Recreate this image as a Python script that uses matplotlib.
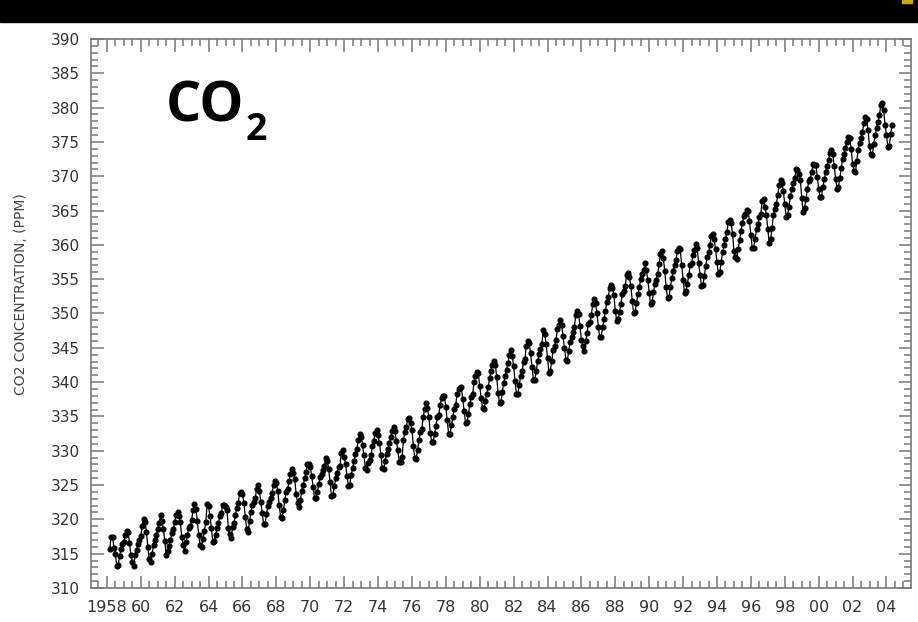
import numpy as np
import matplotlib.pyplot as plt
from matplotlib.ticker import MultipleLocator, FixedLocator

nan = np.nan

# Monthly Mauna Loa CO2 (ppm), Mar 1958 - Dec 2004, nan = month not measured
co2_1958_1969 = [
    315.71, 317.45, 317.50, nan, 315.86, 314.93, 313.20, nan, 313.33, 314.67,
    315.62, 316.38, 316.71, 317.72, 318.29, 318.15, 316.54, 314.80, 313.84, 313.26, 314.80, 315.58,
    316.43, 316.97, 317.58, 319.02, 320.03, 319.59, 318.18, 315.91, 314.16, 313.83, 315.00, 316.19,
    316.93, 317.70, 318.54, 319.48, 320.58, 319.77, 318.57, 316.79, 314.80, 315.38, 316.10, 317.01,
    317.94, 318.56, 319.68, 320.63, 321.01, 320.55, 319.58, 317.40, 316.26, 315.42, 316.69, 317.69,
    318.74, 319.08, 319.86, 321.39, 322.25, 321.47, 319.74, 317.77, 316.21, 315.99, 317.07, 318.35,
    319.57, nan, nan, nan, 322.25, 321.89, 320.44, 318.70, 316.70, 316.79, 317.79, 318.71,
    319.44, 320.44, 320.89, 322.13, 322.16, 321.87, 321.39, 318.81, 317.81, 317.30, 318.87, 319.42,
    320.62, 321.59, 322.39, 323.87, 324.01, 323.75, 322.39, 320.37, 318.64, 318.10, 319.79, 321.08,
    322.07, 322.50, 323.04, 324.42, 325.00, 324.09, 322.55, 320.92, 319.31, 319.31, 320.72, 321.96,
    322.57, 323.15, 323.89, 325.02, 325.57, 325.36, 324.14, 322.03, 320.41, 320.25, 321.31, 322.84,
    324.00, 324.42, 325.64, 326.66, 327.38, 326.70, 325.89, 323.67, 322.38, 321.78, 322.85, 324.11,
]
co2_1970_1979 = [
    325.03, 325.99, 326.87, 328.13, 328.07, 327.66, 326.35, 324.69, 323.10, 323.16, 323.98, 325.13,
    326.17, 326.68, 327.18, 327.78, 328.92, 328.57, 327.34, 325.46, 323.36, 323.57, 324.80, 326.01,
    326.77, 327.63, 327.75, 329.72, 330.07, 329.09, 328.05, 326.32, 324.93, 325.06, 326.50, 327.55,
    328.54, 329.56, 330.30, 331.50, 332.48, 332.07, 330.87, 329.31, 327.51, 327.18, 328.16, 328.64,
    329.35, 330.71, 331.48, 332.65, 333.09, 332.25, 331.18, 329.40, 327.44, 327.37, 328.46, 329.58,
    330.25, 331.09, 331.96, 332.94, 333.45, 332.82, 331.43, 330.05, 328.42, 328.33, 329.03, nan,
    331.59, 332.75, 333.52, 334.64, 334.77, 334.00, 333.06, 330.68, 328.95, 328.75, 330.15, 331.62,
    332.66, 333.13, 334.95, 336.13, 336.93, 336.17, 334.88, 332.56, 331.29, 331.27, 332.41, 333.60,
    334.95, 335.25, 336.66, 337.69, 338.03, 338.01, 336.41, 334.41, 332.37, 332.41, 333.75, 334.90,
    336.14, 336.69, 338.27, 338.95, 339.21, 339.26, 337.54, 335.75, 333.98, 334.19, 335.31, 336.81,
]
co2_1980_1989 = [
    337.90, 338.34, 340.01, 340.93, 341.48, 341.33, 339.40, 337.70, 336.19, 336.15, 337.27, 338.32,
    339.29, 340.55, 341.61, 342.53, 343.03, 342.54, 340.78, 338.44, 336.95, 337.08, 338.58, 339.88,
    340.96, 341.73, 342.81, 343.97, 344.63, 343.79, 342.32, 340.09, 338.28, 338.29, 339.60, 340.90,
    341.68, 342.90, 343.33, 345.25, 346.03, 345.63, 344.19, 342.27, 340.35, 340.38, 341.59, 343.05,
    344.10, 344.79, 345.52, nan, 347.63, 346.98, 345.53, 343.55, 341.40, 341.67, 343.10, 344.70,
    345.21, 346.16, 347.74, 348.34, 349.06, 348.38, 346.72, 345.02, 343.27, 343.13, 344.49, 345.88,
    346.56, 347.28, 348.01, 349.77, 350.38, 349.93, 348.16, 346.08, 345.22, 344.51, 345.93, 347.21,
    348.52, 348.73, 349.73, 351.31, 352.09, 351.53, 350.11, 348.08, 346.52, 346.59, 347.96, 349.16,
    350.39, 351.64, 352.41, 353.69, 354.21, 353.72, 352.69, 350.40, 348.92, 349.13, 350.20, 351.41,
    352.91, 353.27, 353.96, 355.64, 355.86, 355.37, 353.99, 351.81, 350.05, 350.25, 351.49, 352.85,
]
co2_1990_1999 = [
    353.80, 355.04, 355.73, 356.32, 357.32, 356.34, 354.84, 353.01, 351.31, 351.62, 353.07, 354.33,
    354.84, 355.73, 357.23, 358.66, 359.13, 358.13, 356.19, 353.85, 352.25, 352.35, 353.81, 355.12,
    356.25, 357.11, 357.86, 359.09, 359.59, 359.33, 357.01, 354.94, 352.96, 353.32, 354.32, 355.57,
    357.00, 357.31, 358.47, 359.27, 360.19, 359.52, 357.33, 355.64, 354.03, 354.12, 355.41, 356.91,
    358.24, 358.92, 359.99, 361.23, 361.65, 360.81, 359.38, 357.46, 355.73, 356.07, 357.53, 358.98,
    359.92, 360.86, 361.83, 363.30, 363.69, 363.19, 361.64, 359.12, 358.17, 357.99, 359.45, 360.68,
    362.07, 363.24, 364.17, 364.57, 365.13, 364.92, 363.55, 361.38, 359.54, 359.58, 360.89, 362.24,
    363.09, 364.03, 364.51, 366.35, 366.64, 365.59, 364.31, 362.25, 360.29, 360.82, 362.49, 364.38,
    365.26, 365.98, 367.24, 368.66, 369.42, 368.99, 367.82, 365.95, 364.02, 364.40, 365.52, 367.13,
    368.18, 369.07, 369.68, 370.99, 370.96, 370.30, 369.45, 366.90, 364.81, 365.37, 366.72, 368.10,
]
co2_2000_2004 = [
    369.29, 369.54, 370.60, 371.82, 371.58, 371.70, 369.86, 368.13, 367.00, 367.03, 368.37, 369.67,
    370.59, 371.51, 372.43, 373.37, 373.85, 373.21, 371.51, 369.61, 368.18, 368.45, 369.76, 371.24,
    372.53, 373.20, 374.12, 375.02, 375.76, 375.52, 374.01, 371.85, 370.75, 370.55, 372.25, 373.79,
    374.88, 375.64, 376.45, 377.73, 378.60, 378.28, 376.70, 374.38, 373.17, 373.14, 374.66, 375.99,
    377.00, 377.87, 378.88, 380.35, 380.62, 379.69, 377.47, 376.01, 374.25, 374.46, 376.16, 377.51,
]

start_year = 1958 + 2 / 12          # first sample: March 1958
year_ticks = list(range(1958, 2005, 2))
year_labels = ['1958'] + [f'{y % 100:02d}' for y in year_ticks[1:]]
ppm_ticks = list(range(310, 391, 5))

co2 = np.array(co2_1958_1969 + co2_1970_1979 + co2_1980_1989 + co2_1990_1999 + co2_2000_2004)
co2 = co2[~np.isnan(co2)]
# the original plots the measured months one after another (gaps closed up)
t = start_year + np.arange(len(co2)) / 12

fig = plt.figure(figsize=(9.18, 6.22), dpi=100)
fig.patch.set_facecolor('white')

# black band along the top edge
fig.patches.append(plt.Rectangle((0, 0.965), 1, 0.035, transform=fig.transFigure,
                                 color='black', zorder=0))
fig.patches.append(plt.Rectangle((0.983, 0.995), 0.01, 0.005, transform=fig.transFigure,
                                 color='#c8b000', zorder=1))

ax = fig.add_axes([0.0991, 0.0547, 0.8933, 0.8826])

ax.plot(t, co2, color='black', linewidth=0.9, marker='o', markersize=3.4,
        markerfacecolor='black', markeredgecolor='black')

ax.set_xlim(1957.06, 2005.45)
ax.set_ylim(310, 390)

ax.xaxis.set_major_locator(FixedLocator(year_ticks))
ax.set_xticklabels(year_labels)
ax.xaxis.set_minor_locator(MultipleLocator(0.5))
ax.set_yticks(ppm_ticks)
ax.yaxis.set_minor_locator(MultipleLocator(1))

grey = '#777777'
for s in ax.spines.values():
    s.set_color(grey)
    s.set_linewidth(1.2)
ax.tick_params(which='both', direction='in', top=True, right=True, color=grey, width=1.1)
ax.tick_params(which='major', length=9)
ax.tick_params(which='minor', length=5)
ax.tick_params(axis='x', labelsize=11.5, labelcolor='#333333', pad=9)
ax.tick_params(axis='y', labelsize=11, labelcolor='#333333', pad=8)

ax.set_ylabel('CO2 CONCENTRATION, (PPM)', fontsize=10, color='#444444')
ax.yaxis.set_label_coords(-0.077, 0.535)

co_txt = fig.text(0.181, 0.804, 'CO', fontsize=40, fontweight='bold', family='Open Sans',
                  color='black', ha='left', va='baseline')
ax.annotate('2', xy=(1.0, 0.0), xycoords=co_txt, xytext=(1, -4), textcoords='offset points',
            fontsize=27, fontweight='bold', family='Open Sans', color='black',
            ha='left', va='baseline')

fig.savefig('out.png', dpi=100)
